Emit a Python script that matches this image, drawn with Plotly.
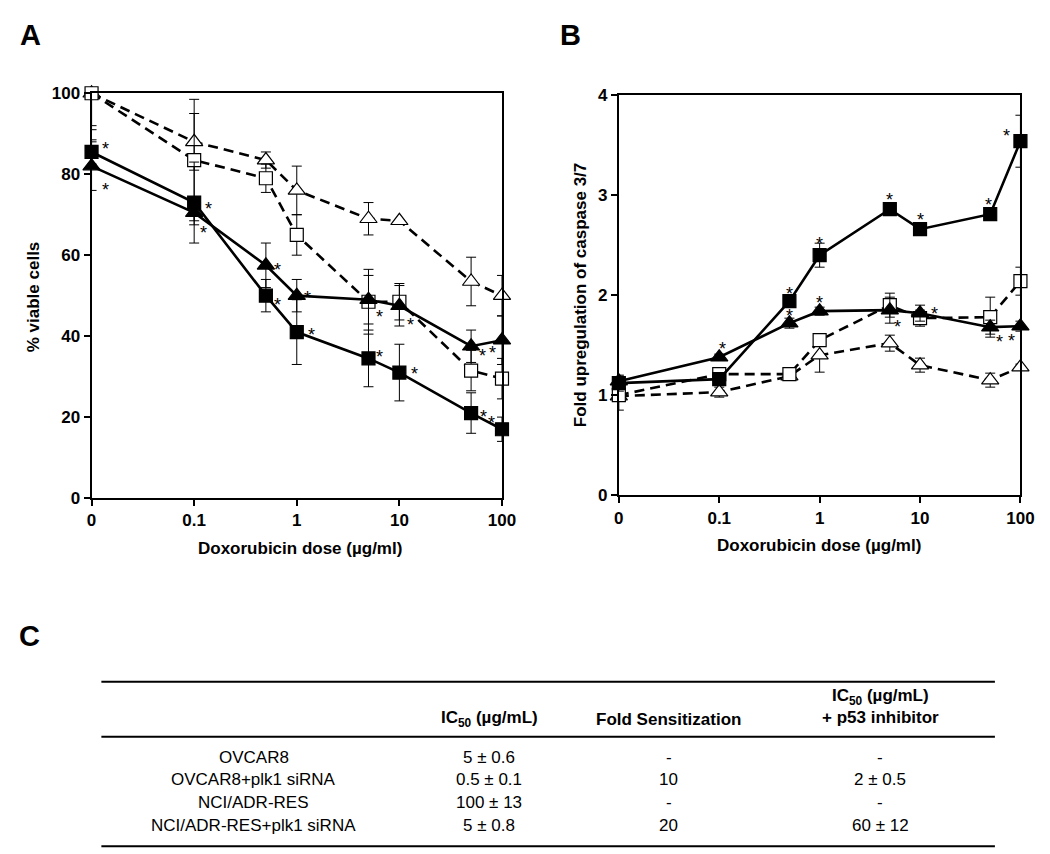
import math
import plotly.graph_objects as go

W, H = 1050, 854

# ---------------- data ----------------
doses = [0, 0.1, 0.5, 1, 5, 10, 50, 100]
zero_pos = 0.01  # where the "0" dose is drawn on the log axis
tick_vals = [0.01, 0.1, 1, 10, 100]
tick_text = ["0", "0.1", "1", "10", "100"]

# Panel A: % viable cells
a_sq_filled = [85.5, 73, 50, 41, 34.5, 31, 21, 17]
a_sq_filled_err = [3, 10, 4, 8, 7, 7, 5, 3]
a_tri_filled = [82, 70.5, 57.5, 50, 49, 47.5, 37.5, 39]
a_tri_filled_err = [6, 3, 5.5, 4, 6, 5, 4, 6]
a_sq_open = [100, 83.5, 79, 65, 48.5, 48.5, 31.5, 29.5]
a_sq_open_err = [8, 15, 3.5, 5, 8, 4.5, 5, 5]
a_tri_open = [100, 88, 83.5, 76, 69, 68.5, 53.5, 50]
a_tri_open_err = [9, 7, 2, 6, 4, 0, 6, 5]

# Panel B: fold upregulation of caspase 3/7
b_sq_filled = [1.12, 1.16, 1.94, 2.40, 2.86, 2.66, 2.81, 3.54]
b_sq_filled_err = [0.08, 0.05, 0.05, 0.12, 0.04, 0.04, 0.04, 0.26]
b_tri_filled = [1.14, 1.38, 1.72, 1.84, 1.85, 1.82, 1.68, 1.69]
b_tri_filled_err = [0.05, 0.03, 0.05, 0.04, 0.13, 0.08, 0.07, 0.05]
b_sq_open = [1.0, 1.21, 1.21, 1.55, 1.90, 1.77, 1.78, 2.14]
b_sq_open_err = [0.15, 0.03, 0.03, 0.05, 0.12, 0.08, 0.2, 0.14]
b_tri_open = [0.99, 1.03, 1.19, 1.40, 1.52, 1.30, 1.15, 1.28]
b_tri_open_err = [0.05, 0.05, 0.03, 0.17, 0.08, 0.07, 0.07, 0.03]

# significance flags (asterisks) per dose
a_sq_filled_sig = [1, 1, 1, 1, 1, 1, 1, 1]
a_tri_filled_sig = [1, 1, 1, 1, 1, 1, 1, 1]
b_sq_filled_sig = [0, 0, 1, 1, 1, 1, 1, 1]
b_tri_filled_sig = [0, 1, 1, 1, 1, 1, 1, 1]

# Panel C table
table_rows = ["OVCAR8", "OVCAR8+plk1 siRNA", "NCI/ADR-RES", "NCI/ADR-RES+plk1 siRNA"]
table_ic50 = ["5 ± 0.6", "0.5 ± 0.1", "100 ± 13", "5 ± 0.8"]
table_fold = ["-", "10", "-", "20"]
table_ic50_p53 = ["-", "2 ± 0.5", "-", "60 ± 12"]
table_headers = ["", "IC<sub>50</sub> (µg/mL)", "Fold Sensitization",
                 "IC<sub>50</sub> (µg/mL)<br>+ p53 inhibitor"]

# ---------------- style ----------------
FONT = "Liberation Sans, Arial, sans-serif"

# pixel offsets of asterisks relative to their marker (dx right, dy up)
a_sq_star_off = [(14, 6), (14, -3), (12, -6), (15, 0), (11, 4), (15, 2), (12, -1), (-10, 9)]
a_tri_star_off = [(14, -21), (9, -17), (12, -2), (11, 1), (11, -14), (11, -16), (11, -7), (-9, -10)]
b_sq_star_off = [(0, 0), (0, 0), (0, 10), (0, 14), (0, 12), (0, 12), (-2, 12), (-14, 8)]
b_tri_star_off = [(0, 0), (3, 11), (0, 10), (0, 11), (8, -14), (14, 2), (9, -12), (-9, -12)]


def px(x):
    return x / W


def py(y):
    return 1 - y / H


xs = [zero_pos if d == 0 else d for d in doses]

fig = go.Figure()


def add_series(y, err, xa, ya, symbol, fill, dash, cap_plus_limit=None):
    plus = list(err)
    if cap_plus_limit is not None:
        plus = [0 if v >= cap_plus_limit else e for v, e in zip(y, err)]
    fig.add_trace(go.Scatter(
        x=xs, y=y, xaxis=xa, yaxis=ya, mode="lines+markers",
        line=dict(color="black", width=2.6, dash=dash),
        marker=dict(symbol=symbol, size=13 if "square" in symbol else 15,
                    color=fill, line=dict(color="black", width=1.2)),
        error_y=dict(type="data", array=plus, arrayminus=list(err),
                     color="black", thickness=1, width=5, symmetric=False),
        cliponaxis=False, showlegend=False, hoverinfo="skip",
    ))


DASH = "10px,6px"
# Panel A
add_series(a_tri_open, a_tri_open_err, "x", "y", "triangle-up", "white", DASH, 100)
add_series(a_sq_open, a_sq_open_err, "x", "y", "square", "white", DASH, 100)
add_series(a_tri_filled, a_tri_filled_err, "x", "y", "triangle-up", "black", "solid")
add_series(a_sq_filled, a_sq_filled_err, "x", "y", "square", "black", "solid")
# Panel B
add_series(b_tri_open, b_tri_open_err, "x2", "y2", "triangle-up", "white", DASH)
add_series(b_sq_open, b_sq_open_err, "x2", "y2", "square", "white", DASH)
add_series(b_tri_filled, b_tri_filled_err, "x2", "y2", "triangle-up", "black", "solid")
add_series(b_sq_filled, b_sq_filled_err, "x2", "y2", "square", "black", "solid")

annotations = []


def add_stars(y, sig, offs, xr, yr):
    for xv, yv, s, (dx, dy) in zip(xs, y, sig, offs):
        if not s:
            continue
        annotations.append(dict(
            x=math.log10(xv), y=yv, xref=xr, yref=yr, text="*", showarrow=False,
            xanchor="center", yanchor="middle",
            xshift=dx, yshift=dy - 3, font=dict(family=FONT, size=18, color="#000000"),
        ))


add_stars(a_sq_filled, a_sq_filled_sig, a_sq_star_off, "x", "y")
add_stars(a_tri_filled, a_tri_filled_sig, a_tri_star_off, "x", "y")
add_stars(b_sq_filled, b_sq_filled_sig, b_sq_star_off, "x2", "y2")
add_stars(b_tri_filled, b_tri_filled_sig, b_tri_star_off, "x2", "y2")

axis_common = dict(
    showline=True, linecolor="black", linewidth=2, mirror=True,
    ticks="outside", ticklen=6, tickwidth=2, tickcolor="black",
    showgrid=False, zeroline=False,
    tickfont=dict(family=FONT, size=17, color="black", weight="bold"),
)

fig.update_layout(
    width=W, height=H, margin=dict(l=0, r=0, t=0, b=0),
    paper_bgcolor="white", plot_bgcolor="white",
    xaxis=dict(domain=[px(80), px(498)], anchor="y", type="log",
               range=[-2, 2], tickvals=tick_vals, ticktext=tick_text, **axis_common),
    yaxis=dict(domain=[py(492), py(78)], anchor="x", range=[0, 100],
               tickvals=[0, 20, 40, 60, 80, 100], **axis_common),
    xaxis2=dict(domain=[px(617), px(1026)], anchor="y2", type="log",
                range=[-2, 2], tickvals=tick_vals, ticktext=tick_text, **axis_common),
    yaxis2=dict(domain=[py(489), py(80)], anchor="x2", range=[0, 4],
                tickvals=[0, 1, 2, 3, 4], **axis_common),
)


def paper_text(x, y, text, font, angle=0):
    return dict(x=px(x), y=py(y), xref="paper", yref="paper", text=text, showarrow=False,
                xanchor="center", yanchor="middle", textangle=angle, font=font)


# axis titles and panel letters
title_font = dict(family=FONT, size=17, color="black", weight="bold")
letter_font = dict(family=FONT, size=29, color="black", weight="bold")
annotations += [
    paper_text(292, 544, "Doxorubicin dose (µg/ml)", title_font),
    paper_text(21, 286, "% viable cells", title_font, -90),
    paper_text(821, 541, "Doxorubicin dose (µg/ml)", title_font),
    paper_text(578, 284, "Fold upregulation of caspase 3/7", title_font, -90),
    paper_text(18, 18, "A", letter_font),
    paper_text(568, 18, "B", letter_font),
    paper_text(17, 633, "C", letter_font),
]

# ---------------- table (panel C) ----------------
col_centers = [245, 485, 668, 883]
row_y = [757, 780, 803, 827]
header_y = [718, 718, 718, 705]
tfont = dict(family=FONT, size=17, color="black")
hfont = dict(family=FONT, size=17, color="black", weight="bold")
for ci, htxt in enumerate(table_headers):
    if htxt:
        annotations.append(paper_text(col_centers[ci], header_y[ci], htxt, hfont))
columns = [table_rows, table_ic50, table_fold, table_ic50_p53]
for ci, col in enumerate(columns):
    for ri, val in enumerate(col):
        annotations.append(paper_text(col_centers[ci], row_y[ri], val, tfont))

shapes = []
for yy in [680, 736, 848]:
    shapes.append(dict(type="line", xref="paper", yref="paper", x0=px(90), x1=px(1000),
                       y0=py(yy), y1=py(yy), line=dict(color="black", width=2)))

fig.update_layout(annotations=annotations, shapes=shapes)
fig.write_html("out.html")
